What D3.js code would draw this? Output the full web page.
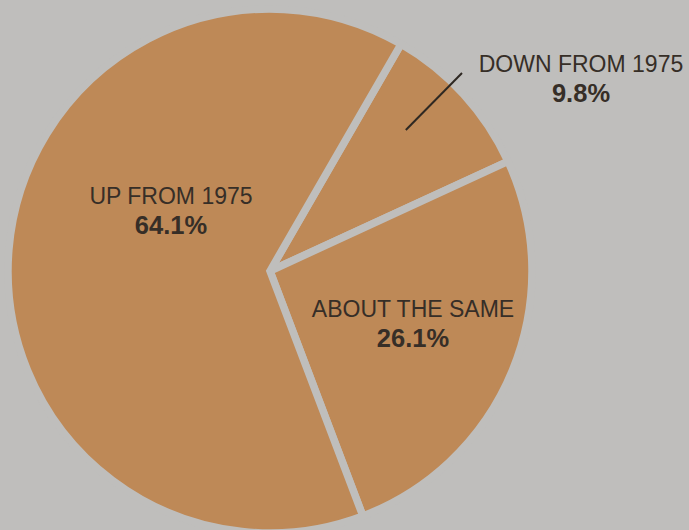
<!DOCTYPE html>
<html>
<head>
<meta charset="utf-8">
<script src="https://cdn.jsdelivr.net/npm/d3@7"></script>
<style>
  html, body { margin: 0; padding: 0; background: #bfbebc; }
  svg { display: block; }
  text { font-family: "Liberation Sans", Arial, sans-serif; fill: #362e27; }
</style>
</head>
<body>
<div class="pie-container"></div>
<script>
// data
const categories = ["DOWN FROM 1975", "ABOUT THE SAME", "UP FROM 1975"];
const values = [9.8, 26.1, 64.1];
const valueLabels = ["9.8%", "26.1%", "64.1%"];

// label placement (page coords), kept apart from the data
const labelPos = {
    "DOWN FROM 1975": { x: 581, y: 72 },
    "ABOUT THE SAME": { x: 413, y: 317 },
    "UP FROM 1975": { x: 171, y: 204 }
};

const svg_width = 689;
const svg_height = 530;
const bg = "#bfbebc";
const sliceColor = "#be8957";
const cx = 270, cy = 271;
const radius = 262;
const startDeg = 30;

const svg = d3.select('.pie-container')
    .append('svg').attr('width', svg_width).attr('height', svg_height);

svg.append('rect').attr('width', svg_width).attr('height', svg_height).attr('fill', bg);

const pieData = categories.map((c, i) => ({ name: c, value: values[i], label: valueLabels[i] }));

// start a bit past 12 o'clock, clockwise
const pie = d3.pie().sort(null).value(d => d.value)
    .startAngle(startDeg * Math.PI / 180).endAngle(startDeg * Math.PI / 180 + 2 * Math.PI);

const arcs = pie(pieData);
const arc = d3.arc().innerRadius(0).outerRadius(radius);
const innerArc = d3.arc().innerRadius(196).outerRadius(196);

const g = svg.append('g').attr('transform', `translate(${cx},${cy})`);

//slices, gaps come from a background stroke
g.selectAll('.slice').data(arcs).join('path')
    .attr('class', 'slice')
    .attr('d', arc)
    .attr('fill', sliceColor)
    .attr('stroke', bg)
    .attr('stroke-width', 7.5)
    .attr('stroke-linejoin', 'miter');

//leader line for the small slice (label sits outside)
const small = arcs[0];
const p0 = innerArc.centroid(small);
const lp = labelPos[small.data.name];
svg.append('line')
    .attr('x1', cx + p0[0] - 9).attr('y1', cy + p0[1] - 9)
    .attr('x2', lp.x - 119).attr('y2', lp.y + 1)
    .attr('stroke', '#2e2822').attr('stroke-width', 2);

//labels
const labels = svg.selectAll('.label').data(arcs).join('text')
    .attr('class', 'label')
    .attr('text-anchor', 'middle')
    .attr('x', d => labelPos[d.data.name].x)
    .attr('y', d => labelPos[d.data.name].y);

labels.append('tspan').text(d => d.data.name)
    .style('font-size', '23px');

labels.append('tspan').text(d => d.data.label)
    .attr('x', d => labelPos[d.data.name].x)
    .attr('dy', 30)
    .style('font-size', '25.5px').style('font-weight', 'bold');
</script>
</body>
</html>
